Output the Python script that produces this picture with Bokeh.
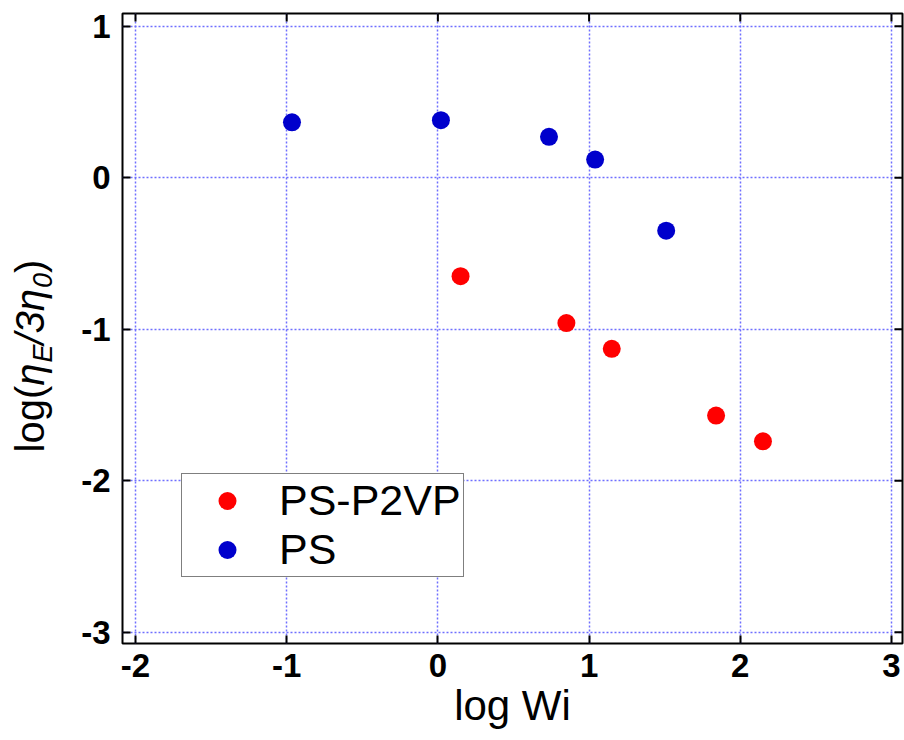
from bokeh.plotting import figure
from bokeh.layouts import row
from bokeh.models import (ColumnDataSource, Legend, LegendItem, FixedTicker, Range1d)
from bokeh.core.properties import value
from bokeh.embed import file_html
from bokeh.resources import INLINE
import math

# Extensional viscosity ratio vs Weissenberg number (log-log)
ps_p2vp_log_wi = [0.15, 0.85, 1.15, 1.84, 2.15]
ps_p2vp_log_eta = [-0.65, -0.96, -1.13, -1.57, -1.74]

ps_log_wi = [-0.965, 0.02, 0.735, 1.04, 1.51]
ps_log_eta = [0.366, 0.38, 0.27, 0.12, -0.35]

x_ticks = [-2, -1, 0, 1, 2, 3]
y_ticks = [-3, -2, -1, 0, 1]

FONT = "Liberation Sans"
TITLE_W = 75            # strip that carries the rotated y-axis title
BORDER_TOP, BORDER_BOTTOM = 13, 97
FRAME_H = 740 - BORDER_TOP - BORDER_BOTTOM

x_range = Range1d(-2.086, 3.073)
y_range = Range1d(-3.075, 1.084)

p = figure(width=904 - TITLE_W, height=740, x_range=x_range, y_range=y_range,
           output_backend="svg", toolbar_location=None,
           min_border_left=122 - TITLE_W, min_border_right=2,
           min_border_top=BORDER_TOP, min_border_bottom=BORDER_BOTTOM)
p.background_fill_color = "white"
p.border_fill_color = "white"
p.outline_line_color = "black"
p.outline_line_width = 2

p.xaxis.ticker = FixedTicker(ticks=x_ticks)
p.yaxis.ticker = FixedTicker(ticks=y_ticks)
p.xaxis.major_label_overrides = {t: str(t) for t in x_ticks}
p.yaxis.major_label_overrides = {t: str(t) for t in y_ticks}

for ax in p.axis:
    ax.axis_line_color = None
    ax.major_tick_in = 8
    ax.major_tick_out = 0
    ax.major_tick_line_color = "black"
    ax.major_tick_line_width = 2
    ax.minor_tick_line_color = None
    ax.major_label_text_font = FONT
    ax.major_label_text_font_style = "bold"
    ax.major_label_text_font_size = "33px"
    ax.major_label_text_color = "black"

p.xaxis.major_label_standoff = 10
p.yaxis.major_label_standoff = 12

p.xaxis.axis_label = "log Wi"
p.xaxis.axis_label_text_font = FONT
p.xaxis.axis_label_text_font_style = "normal"
p.xaxis.axis_label_text_font_size = "42px"
p.xaxis.axis_label_text_color = "black"
p.xaxis.axis_label_standoff = 2

p.xgrid.ticker = FixedTicker(ticks=x_ticks)
p.ygrid.ticker = FixedTicker(ticks=y_ticks)
for g in (p.xgrid[0], p.ygrid[0]):
    g.grid_line_color = "#6f6fff"
    g.grid_line_width = 1.5
    g.grid_line_dash = "2 2"

# inward ticks mirrored on the top and right edges
top_ticks = ColumnDataSource(dict(x=x_ticks, y=[y_range.end] * len(x_ticks)))
right_ticks = ColumnDataSource(dict(x=[x_range.end] * len(y_ticks), y=y_ticks))
p.ray("x", "y", source=top_ticks, length=8, length_units="screen",
      angle=-math.pi / 2, line_color="black", line_width=2)
p.ray("x", "y", source=right_ticks, length=8, length_units="screen",
      angle=math.pi, line_color="black", line_width=2)

src_red = ColumnDataSource(dict(x=ps_p2vp_log_wi, y=ps_p2vp_log_eta))
src_blue = ColumnDataSource(dict(x=ps_log_wi, y=ps_log_eta))
r_red = p.scatter("x", "y", source=src_red, size=18, fill_color="#ff0000",
                  line_color="#ff0000", line_width=0)
r_blue = p.scatter("x", "y", source=src_blue, size=18, fill_color="#0000cc",
                   line_color="#0000cc", line_width=0)

legend = Legend(items=[LegendItem(label="PS-P2VP", renderers=[r_red]),
                       LegendItem(label="PS", renderers=[r_blue])],
                location=(59, 66), orientation="vertical")
legend.border_line_color = "black"
legend.border_line_width = 1.5
legend.background_fill_color = "white"
legend.background_fill_alpha = 1.0
legend.padding = 2
legend.spacing = 0
legend.margin = 0
legend.glyph_width = 86
legend.glyph_height = 45
legend.label_height = 45
legend.label_standoff = 9
legend.label_text_font = FONT
legend.label_text_font_size = "43px"
legend.label_text_color = "black"
legend.label_text_baseline = "middle"
p.add_layout(legend)

# narrow strip holding the y-axis title log(eta_E / 3 eta_0); its frame spans the
# same rows as the main frame and its ranges are in pixels
t = figure(width=TITLE_W, height=740, x_range=Range1d(0, TITLE_W), y_range=Range1d(0, FRAME_H),
           x_axis_type=None, y_axis_type=None, output_backend="svg",
           toolbar_location=None, min_border_left=0, min_border_right=0,
           min_border_top=BORDER_TOP, min_border_bottom=BORDER_BOTTOM)
t.outline_line_color = None
t.background_fill_color = "white"
t.border_fill_color = "white"

MAIN = 40
SUB = 27
base_x = 29
sub_x = 42
pieces = [
    ("log(", MAIN, "normal", base_x, 1.667),
    ("η", MAIN, "italic", base_x, 0.58),
    ("E", SUB, "italic", sub_x, 0.667),
    ("/3", MAIN, "italic", base_x, 0.834),
    ("η", MAIN, "italic", base_x, 0.58),
    ("0", SUB, "italic", sub_x, 0.556),
    (")", MAIN, "normal", base_x, 0.333),
]
pos = 191.0
for txt, size, style, x, adv in pieces:
    t.text(x=[x], y=[pos], text=[txt], angle=math.pi / 2, text_align="left",
           text_baseline="alphabetic", text_font=value(FONT),
           text_font_size=value(f"{size}px"), text_font_style=value(style),
           text_color="black")
    pos += adv * size

layout = row(t, p, spacing=0)
open("out.html", "w").write(file_html(layout, INLINE))
